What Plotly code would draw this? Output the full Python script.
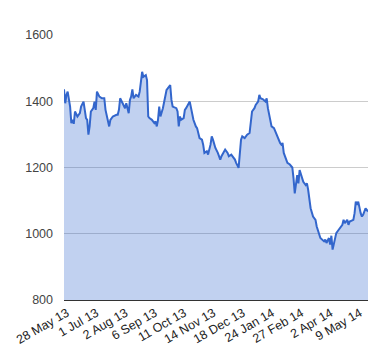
import plotly.graph_objects as go

# trading-day index since 28 May 13 and closing value
day = [0, 1, 2, 3, 5, 6, 7, 8, 9, 11, 13, 14, 16, 17, 18, 19, 20, 21, 22, 23,
       24, 25, 26, 27, 29, 31, 33, 34, 35, 37, 38, 40, 43, 44, 45, 46, 48, 50, 51, 53,
       54, 55, 56, 57, 59, 61, 62, 63, 64, 65, 67, 68, 69, 70, 72, 74, 75, 76, 77, 78,
       79, 81, 83, 84, 85, 87, 88, 89, 92, 93, 94, 95, 96, 98, 99, 100, 103, 105, 106, 108,
       109, 111, 113, 114, 115, 117, 118, 120, 121, 122, 124, 126, 128, 129, 131, 132, 134, 135, 137, 138,
       140, 141, 143, 145, 146, 148, 150, 152, 153, 154, 156, 157, 159, 160, 161, 163, 165, 166, 167, 169,
       170, 172, 173, 175, 177, 178, 179, 180, 182, 183, 185, 187, 188, 189, 191, 192, 193, 195, 196, 198,
       199, 200, 202, 204, 206, 207, 208, 210, 213, 214, 215, 217, 218, 219, 220, 221, 223, 225, 228, 229,
       230, 232, 233, 234, 237, 238, 239, 240, 241, 243, 244, 245, 247, 249]
close = [1436, 1394, 1419, 1429, 1384, 1334, 1344, 1332, 1369, 1354, 1364, 1384, 1399, 1374, 1349, 1344, 1299, 1324, 1369, 1374,
         1379, 1399, 1374, 1429, 1414, 1409, 1409, 1374, 1354, 1324, 1344, 1354, 1359, 1359, 1374, 1409, 1394, 1379, 1394, 1364,
         1404, 1414, 1436, 1409, 1419, 1414, 1429, 1454, 1489, 1474, 1479, 1464, 1354, 1349, 1344, 1334, 1339, 1324, 1344, 1384,
         1354, 1379, 1424, 1434, 1439, 1449, 1404, 1384, 1379, 1369, 1324, 1354, 1344, 1349, 1374, 1379, 1399, 1354, 1344, 1324,
         1319, 1289, 1284, 1269, 1244, 1249, 1239, 1269, 1294, 1284, 1259, 1244, 1224, 1234, 1249, 1254, 1244, 1234, 1239, 1234,
         1224, 1214, 1199, 1284, 1294, 1289, 1299, 1304, 1344, 1369, 1379, 1389, 1399, 1419, 1409, 1406, 1399, 1409, 1379, 1344,
         1324, 1319, 1309, 1289, 1274, 1269, 1274, 1244, 1219, 1214, 1209, 1200, 1167, 1122, 1177, 1152, 1192, 1172, 1157, 1147,
         1152, 1132, 1077, 1052, 1042, 1022, 1012, 987, 977, 982, 972, 987, 967, 994, 952, 972, 1002, 1012, 1027, 1042,
         1032, 1042, 1027, 1037, 1042, 1062, 1097, 1087, 1097, 1062, 1052, 1057, 1077, 1067]

tick_days = [0, 24, 48, 72, 96, 120, 144, 168, 192, 216, 240]
tick_labels = ["28 May 13", "1 Jul 13", "2 Aug 13", "6 Sep 13", "11 Oct 13", "14 Nov 13",
               "18 Dec 13", "24 Jan 14", "27 Feb 14", "2 Apr 14", "9 May 14"]
y_ticks = [800, 1000, 1200, 1400, 1600]

fig = go.Figure()
fig.add_trace(go.Scatter(
    x=day, y=close, mode="lines", fill="tozeroy",
    line=dict(color="#3366cc", width=2),
    fillcolor="rgba(51,102,204,0.3)",
    hoverinfo="skip",
))

fig.update_layout(
    width=380, height=360,
    margin=dict(l=56, r=20, t=27, b=68, autoexpand=False),
    paper_bgcolor="white", plot_bgcolor="white",
    showlegend=False,
    font=dict(family="Liberation Sans, Arial, sans-serif", size=12, color="#222"),
)
fig.update_xaxes(
    range=[0, 249], tickmode="array", tickvals=tick_days, ticktext=tick_labels,
    tickangle=-30, showgrid=False, zeroline=False,
    showline=True, linecolor="#333", linewidth=1,
    ticks="", ticklabelshift=3, tickfont=dict(size=12.5, color="#222"),
)
fig.update_yaxes(
    range=[800, 1600], tickmode="array", tickvals=y_ticks,
    showgrid=True, gridcolor="#cccccc", gridwidth=1, zeroline=False,
    ticks="", ticklabelstandoff=10, tickfont=dict(size=12.5, color="#444"),
)

fig.write_html("out.html")
